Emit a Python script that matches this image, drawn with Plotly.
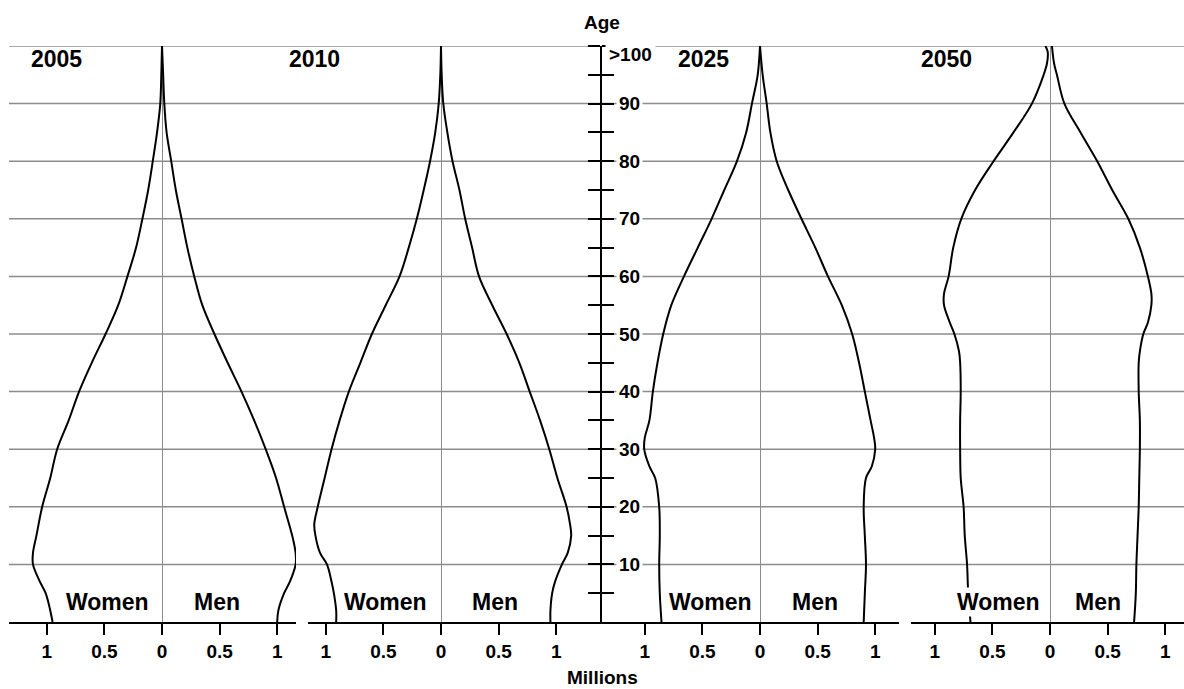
import plotly.graph_objects as go

# ---------------- data (millions of people by age) ----------------
YEARS = ["2005", "2010", "2025", "2050"]

AGES_2005 = [0, 2, 5, 7, 10, 12, 15, 20, 25, 30, 35, 40, 45, 50, 55, 60, 65, 70, 75, 80, 85, 90, 95, 100]
WOMEN_2005 = [0.95, 0.97, 1.01, 1.06, 1.12, 1.12, 1.09, 1.04, 0.97, 0.91, 0.81, 0.72, 0.61, 0.49, 0.38, 0.30, 0.225, 0.17, 0.12, 0.08, 0.043, 0.015, 0.006, 0.0]
MEN_2005 = [1.0, 1.01, 1.06, 1.11, 1.16, 1.16, 1.13, 1.06, 0.99, 0.90, 0.80, 0.69, 0.57, 0.455, 0.35, 0.28, 0.22, 0.17, 0.12, 0.08, 0.04, 0.02, 0.01, 0.0]

AGES_2010 = [0, 2, 5, 7, 10, 12, 15, 17, 20, 25, 30, 35, 40, 45, 50, 55, 60, 65, 70, 75, 80, 85, 90, 95, 100]
WOMEN_2010 = [0.91, 0.91, 0.93, 0.95, 0.99, 1.05, 1.09, 1.10, 1.07, 1.01, 0.95, 0.88, 0.80, 0.70, 0.60, 0.48, 0.36, 0.28, 0.21, 0.15, 0.095, 0.05, 0.02, 0.006, 0.0]
MEN_2010 = [0.95, 0.95, 0.965, 0.99, 1.05, 1.10, 1.13, 1.12, 1.09, 1.01, 0.94, 0.86, 0.77, 0.68, 0.57, 0.445, 0.33, 0.27, 0.21, 0.16, 0.10, 0.055, 0.02, 0.006, 0.0]

AGES_2025 = [0, 5, 10, 15, 20, 25, 27, 30, 32, 35, 40, 45, 50, 55, 60, 65, 70, 75, 80, 85, 90, 95, 100]
WOMEN_2025 = [0.855, 0.87, 0.875, 0.87, 0.875, 0.91, 0.96, 1.005, 1.0, 0.96, 0.93, 0.89, 0.84, 0.77, 0.66, 0.54, 0.42, 0.31, 0.20, 0.12, 0.07, 0.02, 0.0]
MEN_2025 = [0.90, 0.91, 0.92, 0.91, 0.90, 0.92, 0.97, 1.0, 0.99, 0.96, 0.91, 0.86, 0.80, 0.71, 0.59, 0.48, 0.36, 0.245, 0.145, 0.09, 0.058, 0.023, 0.0]

AGES_2050 = [0, 5, 10, 15, 20, 25, 30, 35, 40, 45, 47, 50, 52, 55, 57, 60, 65, 70, 75, 80, 85, 90, 95, 97, 99, 100]
WOMEN_2050 = [0.69, 0.71, 0.72, 0.74, 0.75, 0.775, 0.78, 0.78, 0.775, 0.78, 0.79, 0.83, 0.87, 0.92, 0.92, 0.88, 0.84, 0.77, 0.65, 0.49, 0.317, 0.157, 0.055, 0.026, 0.02, 0.04]
MEN_2050 = [0.73, 0.745, 0.75, 0.76, 0.77, 0.775, 0.78, 0.78, 0.77, 0.77, 0.78, 0.81, 0.85, 0.88, 0.88, 0.85, 0.78, 0.68, 0.54, 0.41, 0.265, 0.125, 0.06, 0.035, 0.022, 0.017]

X_TICKS = [-1, -0.5, 0, 0.5, 1]
X_TICK_TEXT = ["1", "0.5", "0", "0.5", "1"]
AGE_TICKS = list(range(5, 101, 5))
AGE_GRID = list(range(10, 101, 10))
AGE_LABELS = ["10", "20", "30", "40", "50", "60", "70", "80", "90"]
TOP_LABEL = ">100"

PANELS = [
    (YEARS[0], AGES_2005, WOMEN_2005, MEN_2005),
    (YEARS[1], AGES_2010, WOMEN_2010, MEN_2010),
    (YEARS[2], AGES_2025, WOMEN_2025, MEN_2025),
    (YEARS[3], AGES_2050, WOMEN_2050, MEN_2050),
]

# ---------------- layout geometry (pixels) ----------------
W, H = 1184, 689
ML, MR, MT, MB = 0, 0, 46, 67
PH = H - MT - MB
# (left px, right px, zero px) for each panel, ~115 px per million
PANEL_PX = [(9, 296, 162), (307.6, 601, 441), (601, 899, 760), (910.5, 1184, 1050)]
SCALE = 115.2
AXIS_X = 601

FONT = "Liberation Sans, Arial, sans-serif"
GRID_COLOR = "#8c8c8c"


def px(x):
    return x / W


def py(y):
    return (H - MB - y) / PH


fig = go.Figure()
layout_axes = {}
for i, (year, ages, women, men) in enumerate(PANELS):
    xa = "x" if i == 0 else f"x{i+1}"
    xkey = "xaxis" if i == 0 else f"xaxis{i+1}"
    line = dict(color="black", width=2, shape="spline", smoothing=1.0)
    fig.add_trace(go.Scatter(x=[-v for v in women], y=ages, xaxis=xa, yaxis="y",
                             mode="lines", line=line, showlegend=False, hoverinfo="skip"))
    fig.add_trace(go.Scatter(x=men, y=ages, xaxis=xa, yaxis="y",
                             mode="lines", line=line, showlegend=False, hoverinfo="skip"))
    l, r, z = PANEL_PX[i]
    layout_axes[xkey] = dict(
        domain=[px(l), px(r)],
        range=[-(z - l) / SCALE, (r - z) / SCALE],
        anchor="y",
        showline=True, linecolor="black", linewidth=2,
        ticks="outside", ticklen=11, tickwidth=2, tickcolor="black",
        tickvals=X_TICKS, ticktext=X_TICK_TEXT,
        tickfont=dict(family=FONT, size=19, color="black", weight="bold"),
        showgrid=False,
        zeroline=True, zerolinecolor=GRID_COLOR, zerolinewidth=1.3,
        fixedrange=True,
    )

# dummy trace so the right-side tick axis is drawn
fig.add_trace(go.Scatter(x=[None], y=[None], xaxis="x3", yaxis="y2",
                         showlegend=False, hoverinfo="skip"))

axis_common = dict(
    range=[0, 100], domain=[0, 1], anchor="free", position=px(AXIS_X),
    ticks="outside", ticklen=12, tickwidth=2, tickcolor="black",
    tickvals=AGE_TICKS, showticklabels=False, showgrid=False, zeroline=False,
    fixedrange=True,
)

shapes = []
for a in AGE_GRID:
    shapes.append(dict(type="line", xref="paper", yref="y", x0=px(9), x1=1.0, y0=a, y1=a,
                       line=dict(color=GRID_COLOR, width=1.5), layer="below"))

annotations = []
bold = lambda s: dict(family=FONT, size=s, color="black", weight="bold")
# year labels
YEAR_X = [56, 314, 703.5, 946]
for year, xp in zip(YEARS, YEAR_X):
    annotations.append(dict(text=year, x=px(xp), y=py(59), xref="paper", yref="paper",
                            xanchor="center", yanchor="middle", showarrow=False, font=bold(23)))
# Women / Men labels
WOMEN_X = [107, 385.5, 710.5, 998.5]
MEN_X = [217, 495, 815, 1097.5]
for wx, mx in zip(WOMEN_X, MEN_X):
    annotations.append(dict(text="Women", x=px(wx), y=py(602), xref="paper", yref="paper",
                            xanchor="center", yanchor="middle", showarrow=False, font=bold(23),
                            bgcolor="white", borderpad=1))
    annotations.append(dict(text="Men", x=px(mx), y=py(602), xref="paper", yref="paper",
                            xanchor="center", yanchor="middle", showarrow=False, font=bold(23),
                            bgcolor="white", borderpad=1))
# age labels on central axis
for lab, a in zip(AGE_LABELS, AGE_GRID):
    annotations.append(dict(text=lab, x=px(616), y=a, xref="paper", yref="y",
                            xanchor="left", yanchor="middle", showarrow=False, font=bold(19),
                            bgcolor="white", borderpad=2))
annotations.append(dict(text=TOP_LABEL, x=px(605), y=98.5, xref="paper", yref="y",
                        xanchor="left", yanchor="middle", showarrow=False, font=bold(19),
                        bgcolor="white", borderpad=3))
annotations.append(dict(text="Age", x=px(602), y=py(23), xref="paper", yref="paper",
                        xanchor="center", yanchor="middle", showarrow=False, font=bold(19)))
annotations.append(dict(text="Millions", x=px(602.5), y=py(677), xref="paper", yref="paper",
                        xanchor="center", yanchor="middle", showarrow=False, font=bold(19)))

fig.update_layout(
    width=W, height=H,
    margin=dict(l=ML, r=MR, t=MT, b=MB, pad=0),
    paper_bgcolor="white", plot_bgcolor="rgba(0,0,0,0)",
    showlegend=False,
    yaxis=dict(side="left", showline=True, linecolor="black", linewidth=2, **axis_common),
    yaxis2=dict(side="right", overlaying="y", showline=False, **axis_common),
    shapes=shapes,
    annotations=annotations,
    **layout_axes,
)

fig.write_html("out.html", config={"displayModeBar": False},
               post_script="document.body.style.margin='0';")
